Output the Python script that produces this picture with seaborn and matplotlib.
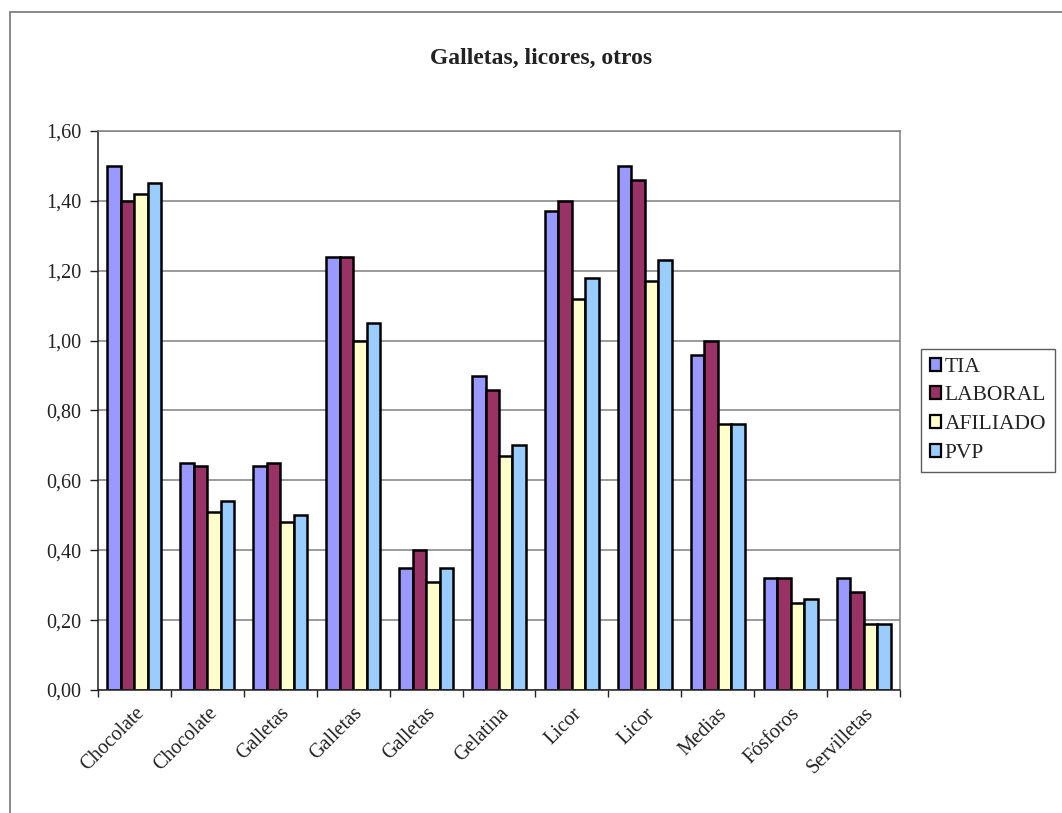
import matplotlib
matplotlib.use("Agg")
import matplotlib.pyplot as plt
import matplotlib.patches as mpatches
from matplotlib.ticker import FuncFormatter, FixedLocator
import numpy as np
import pandas as pd
import seaborn as sns

# Product categories (some names repeat: different presentations)
categories = ["Chocolate", "Chocolate", "Galletas", "Galletas", "Galletas",
              "Gelatina", "Licor", "Licor", "Medias", "Fósforos", "Servilletas"]

# Prices per channel
tia      = [1.50, 0.65, 0.64, 1.24, 0.35, 0.90, 1.37, 1.50, 0.96, 0.32, 0.32]
laboral  = [1.40, 0.64, 0.65, 1.24, 0.40, 0.86, 1.40, 1.46, 1.00, 0.32, 0.28]
afiliado = [1.42, 0.51, 0.48, 1.00, 0.31, 0.67, 1.12, 1.17, 0.76, 0.25, 0.19]
pvp      = [1.45, 0.54, 0.50, 1.05, 0.35, 0.70, 1.18, 1.23, 0.76, 0.26, 0.19]

series_names = ["TIA", "LABORAL", "AFILIADO", "PVP"]
series_colors = ["#9999FF", "#993366", "#FFFFCC", "#99CCFF"]

rows = []
for name, vals in zip(series_names, [tia, laboral, afiliado, pvp]):
    for i, v in enumerate(vals):
        rows.append({"pos": i, "serie": name, "valor": v})
df = pd.DataFrame(rows)

sns.set_theme(style="white")
plt.rcParams["font.family"] = ["Liberation Serif", "DejaVu Serif"]

fig = plt.figure(figsize=(10.62, 8.13), dpi=100)
ax = fig.add_axes([98 / 1062, 1 - 690 / 813, 802 / 1062, 559 / 813])

sns.barplot(data=df, x="pos", y="valor", hue="serie", hue_order=series_names,
            palette=series_colors, width=0.74, gap=0, edgecolor="black",
            linewidth=1.8, saturation=1, ax=ax, legend=False)

ax.set_xlim(-0.5, len(categories) - 0.5)
ax.set_ylim(0, 1.6)
ax.set_yticks(np.arange(0, 1.61, 0.2))
ax.yaxis.set_major_formatter(FuncFormatter(lambda v, p: f"{v:.2f}".replace(".", ",")))
ax.grid(axis="y", color="#808080", linewidth=1.1)
ax.set_axisbelow(True)

# category labels at group centres, tick marks at group boundaries
ax.set_xticks(range(len(categories)))
ax.set_xticklabels(categories, rotation=45, ha="right", rotation_mode="anchor",
                   fontsize=14.5, color="#222222")
ax.xaxis.set_minor_locator(FixedLocator(np.arange(-0.5, len(categories), 1.0)))
ax.tick_params(axis="x", which="major", length=0, pad=10)
ax.tick_params(axis="x", which="minor", length=5, width=1, color="#222222",
               direction="out", bottom=True)
ax.tick_params(axis="y", length=6, width=1, color="#222222", direction="out",
               left=True, labelsize=14.5, labelcolor="#222222", pad=6)
ax.set_xlabel("")
ax.set_ylabel("")

for side in ["top", "right"]:
    ax.spines[side].set_color("#808080")
    ax.spines[side].set_linewidth(1.1)
for side in ["left", "bottom"]:
    ax.spines[side].set_color("#222222")
    ax.spines[side].set_linewidth(1.1)

fig.text(541 / 1062, 1 - 58 / 813, "Galletas, licores, otros", ha="center",
         va="center", fontsize=17, fontweight="bold", color="#222222")

handles = [mpatches.Patch(facecolor=c, edgecolor="black", linewidth=1.6, label=n)
           for n, c in zip(series_names, series_colors)]
leg = fig.legend(handles=handles, loc="upper left",
                 bbox_to_anchor=(921 / 1062, 1 - 349 / 813),
                 frameon=True, fancybox=False, fontsize=15.5,
                 handlelength=0.55, handleheight=0.55, handletextpad=0.15,
                 labelspacing=0.45, borderpad=0.4, borderaxespad=0)
leg.get_frame().set_edgecolor("#333333")
leg.get_frame().set_linewidth(1.0)
for t in leg.get_texts():
    t.set_color("#222222")

# outer chart frame
fig.patches.append(mpatches.Rectangle((10 / 1062, -0.05), 1.1, 1 - 12 / 813 + 0.05,
                                      transform=fig.transFigure, fill=False,
                                      edgecolor="#808080", linewidth=1.3))

fig.savefig("out.png", dpi=100, facecolor="white")
